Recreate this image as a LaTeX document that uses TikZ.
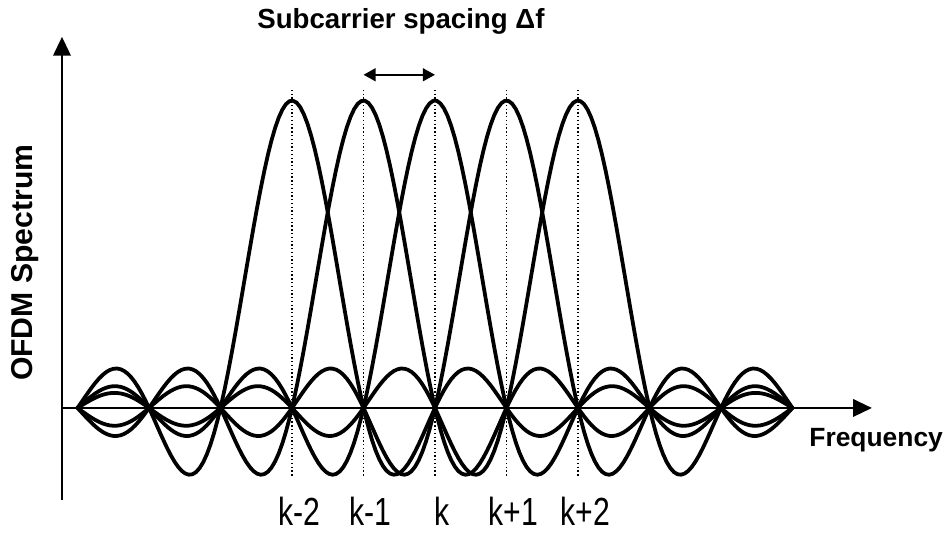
\documentclass[tikz,border=0pt]{standalone}
\usepackage{fontspec}
\setmainfont{Liberation Sans}
\usetikzlibrary{arrows.meta}

\begin{document}
\begin{tikzpicture}[line join=round,
    declare function={sinc(\t)=sin(180*\t)/(pi*\t);},
    carrier/.style={line width=1.5pt,domain=-5:5,samples=200},
    axis/.style={line width=0.8pt,-{Triangle[length=7.5pt,width=7pt]}},
    marker/.style={densely dotted,line width=0.5pt},
    heading/.style={font=\fontsize{11}{13}\selectfont\bfseries},
    klabel/.style={font=\fontsize{12}{14}\selectfont}]
    \useasboundingbox (-6.084,-1.748) rectangle (7.203,5.706);

    % osy
    \coordinate (O) at (-5.217,0);
    \coordinate (Ybot) at (-5.217,-1.287);
    \coordinate (Ytop) at (-5.217,5.19);
    \coordinate (Xend) at (6.11,0);

    % nosne (k-2 .. k+2)
    \coordinate (Km2) at (-2,0);
    \coordinate (Km1) at (-1,0);
    \coordinate (K) at (0,0);
    \coordinate (Kp1) at (1,0);
    \coordinate (Kp2) at (2,0);

    % svisle teckovane cary
    \draw[marker] (-2,4.45) -- (-2,-0.965);
    \draw[marker] (-1,4.45) -- (-1,-0.965);
    \draw[marker] (0,4.45) -- (0,-0.965);
    \draw[marker] (1,4.45) -- (1,-0.965);
    \draw[marker] (2,4.45) -- (2,-0.965);

    \draw[axis] (Ybot) -- (Ytop);
    \draw[axis] (O) -- (Xend);

    % spektra podnosnych
    \draw[carrier] plot (\x,{4.3*sinc(\x+2)});
    \draw[carrier] plot (\x,{4.3*sinc(\x+1)});
    \draw[carrier] plot (\x,{4.3*sinc(\x)});
    \draw[carrier] plot (\x,{4.3*sinc(\x-1)});
    \draw[carrier] plot (\x,{4.3*sinc(\x-2)});

    % rozestup
    \coordinate (Sa) at (-1,4.66);
    \coordinate (Sb) at (0,4.66);
    \draw[line width=1pt,{Triangle[length=4.8pt,width=5pt]}-{Triangle[length=4.8pt,width=5pt]}] (Sa) -- (Sb);

    \node[heading] (title) at (-0.476,5.40) {Subcarrier spacing Δf};
    \node[heading,font=\fontsize{12}{14}\selectfont\bfseries,rotate=90] (ylabel) at (-5.73,2.03) {OFDM Spectrum};
    \node[heading,font=\fontsize{10.5}{13}\selectfont\bfseries] (xlabel) at (6.17,-0.45) {Frequency};

    \node[klabel] (lblm2) at (-1.9,-1.45) {\scalebox{1}[1.3]{k-2}};
    \node[klabel] (lblm1) at (-0.9,-1.45) {\scalebox{1}[1.3]{k-1}};
    \node[klabel] (lblk) at (0.1,-1.45) {\scalebox{1}[1.3]{k}};
    \node[klabel] (lblp1) at (1.1,-1.45) {\scalebox{1}[1.3]{k+1}};
    \node[klabel] (lblp2) at (2.1,-1.45) {\scalebox{1}[1.3]{k+2}};
\end{tikzpicture}
\end{document}
